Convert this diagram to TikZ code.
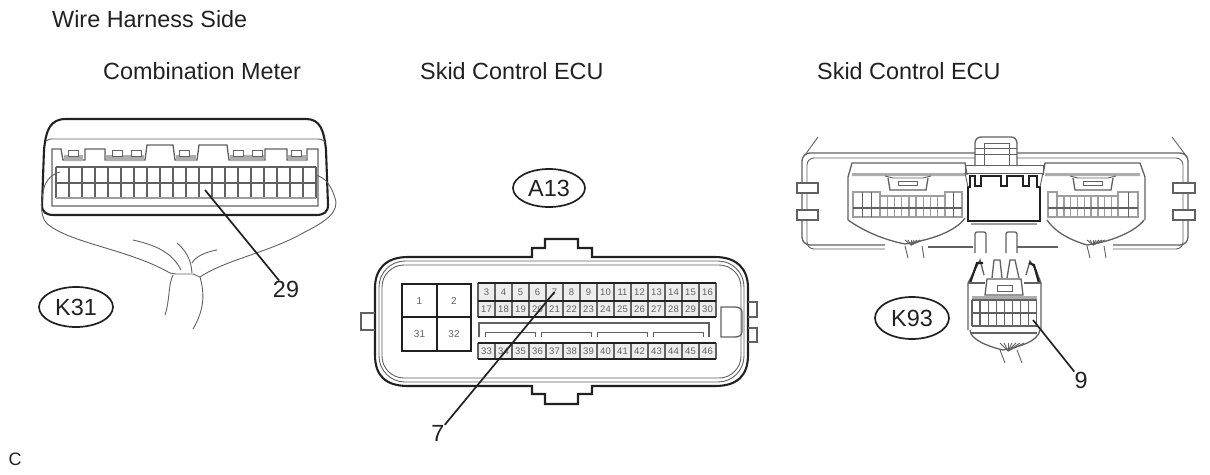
\documentclass[tikz,border=0pt]{standalone}
\usepackage{fontspec}
\setmainfont{Liberation Sans}
\usepackage{xcolor}
\usetikzlibrary{positioning, arrows.meta, shapes.geometric}

\definecolor{inkdark}{gray}{0.13}
\definecolor{inkmid}{gray}{0.38}
\definecolor{inklight}{gray}{0.62}
\definecolor{latchgrey}{gray}{0.68}

\tikzset{
    heavy/.style={draw=inkdark, line width=2.1pt},
    medium/.style={draw=inkmid, line width=1.3pt},
    thin line/.style={draw=inkmid, line width=0.9pt},
    soft/.style={draw=inklight, line width=1.8pt},
    wire/.style={draw=inkmid, line width=0.9pt},
    leader/.style={draw=inkdark, line width=1.7pt},
    title/.style={font=\fontsize{23.4}{26}\selectfont, text=inkdark, inner sep=0pt},
    label/.style={font=\fontsize{23.4}{26}\selectfont, text=inkdark, inner sep=0pt},
    tag/.style={ellipse, draw=inkdark, line width=1.7pt, font=\fontsize{23.4}{26}\selectfont, text=inkdark,
        minimum width=74pt, minimum height=40pt, inner sep=0pt},
    pinbig/.style={font=\fontsize{10}{12}\selectfont, text=inkmid, inner sep=0pt},
    pin/.style={font=\fontsize{9.5}{11}\selectfont, text=inkmid, inner sep=0pt},
}

\begin{document}
\begin{tikzpicture}[x=1pt, y=-1pt]
    \useasboundingbox (0,0) rectangle (1210,474);

    % texts
    \node[title, anchor=west] (side) at (52,19) {Wire Harness Side};
    \node[title, anchor=west] (meter) at (103,71) {Combination Meter};
    \node[title, anchor=west] (ecua) at (420,71) {Skid Control ECU};
    \node[title, anchor=west] (ecub) at (817,71) {Skid Control ECU};
    \node[font=\fontsize{18}{20}\selectfont, text=inkdark, inner sep=0pt] (corner) at (15,459) {C};

    \node[tag] (k31) at (76,307) {K31};
    \node[tag, minimum width=72pt, minimum height=38pt] (a13) at (549,188) {A13};
    \node[tag, minimum height=42pt] (k93) at (912,318) {K93};

    \node[label] (lab29) at (286,289) {29};
    \node[label] (lab7) at (438,433) {7};
    \node[label] (lab9) at (1081,380) {9};

    % combination meter
    \draw[heavy] (42,205) -- (44,150) .. controls (46,130) and (50,119) .. (66,119) -- (306,119)
        .. controls (320,119) and (324,130) .. (326,150) -- (328,205) .. controls (328,212) and (324,215) .. (316,215)
        -- (54,215) .. controls (46,215) and (42,212) .. (42,205) -- cycle;
    \draw[thin line] (46,141) .. controls (48,139) and (50,139) .. (54,139) -- (316,139) .. controls (320,139) and (322,139) .. (325,142);
    \draw[medium] (52,206) -- (52,149) -- (61,149) -- (63,160) -- (85,160) -- (85,149) -- (105,149) -- (105,160)
        -- (145,160) -- (147,145) -- (173,145) -- (175,160) -- (197,160) -- (199,145) -- (227,145) -- (229,160)
        -- (265,160) -- (265,149) -- (287,149) -- (287,160) -- (307,160) -- (307,149) -- (318,149) -- (318,206) -- cycle;
    \fill[latchgrey] (64,155) rectangle (83,161) (106,155) rectangle (144,161)
        (176,155) rectangle (196,161) (230,155) rectangle (264,161) (288,155) rectangle (306,161);
    \foreach \sx in {68,112,131,179,233,252,291}
        \draw[thin line, fill=white] (\sx,150) rectangle ++(10,6);
    \foreach \sx in {0,...,20}
        \draw[medium] (56+13*\sx,167) -- (56+13*\sx,198);
    \draw[medium] (56,167) -- (316,167);
    \draw[medium] (56,183) -- (316,183);
    \draw[soft] (56,198) -- (316,198);

    % wires of the meter
    \draw[wire] (60,172) .. controls (52,174) and (46,180) .. (44,188) .. controls (40,205) and (40,220) .. (50,226)
        .. controls (75,244) and (130,250) .. (170,273) -- (176,274) -- (193,274) -- (200,277)
        .. controls (225,260) and (270,252) .. (303,233) .. controls (325,222) and (340,212) .. (335,198)
        .. controls (331,185) and (325,177) .. (315,175);
    \draw[wire] (173,275) .. controls (168,285) and (170,300) .. (165,315);
    \draw[wire] (200,277) .. controls (205,295) and (204,310) .. (193,329);
    \draw[wire] (133,240) .. controls (155,245) and (172,252) .. (181,270);
    \draw[wire] (177,243) .. controls (185,250) and (191,258) .. (192,273);
    \draw[wire] (217,250) .. controls (205,252) and (195,257) .. (192,263);

    % centre connector
    \draw[heavy] (545,239) -- (578,239) -- (578,248) -- (592,248) -- (592,257) -- (715,257)
        .. controls (738,257) and (748,270) .. (748,288) -- (748,355) .. controls (748,375) and (738,386) .. (715,386)
        -- (592,386) -- (592,394) -- (578,394) -- (578,404) -- (545,404) -- (545,394) -- (532,394) -- (532,386)
        -- (408,386) .. controls (385,386) and (375,375) .. (375,355) -- (375,288) .. controls (375,270) and (385,257) .. (408,257)
        -- (532,257) -- (532,248) -- (545,248) -- cycle;
    \draw[thin line, rounded corners=26pt] (379,261) rectangle (744,382);
    \draw[thin line, rounded corners=22pt] (382,265) rectangle (741,378);
    \draw[medium] (375,313) -- (361,313) -- (361,330) -- (375,330);
    \draw[medium] (748,302) -- (757,302) -- (757,317) -- (748,317);
    \draw[medium] (748,328) -- (757,328) -- (757,342) -- (748,342);
    \draw[medium] (742,312) .. controls (742,309) and (739,307) .. (735,307) -- (721,307) -- (721,337) -- (735,337)
        .. controls (739,337) and (742,335) .. (742,332) -- cycle;

    \draw[heavy] (402,284) rectangle (471,351);
    \draw[heavy] (437,284) -- (437,351);
    \draw[heavy] (402,317) -- (471,317);
    \node[pinbig] (pin1) at (419.5,301) {1};
    \node[pinbig] (pin2) at (454,301) {2};
    \node[pinbig] (pin31) at (419.5,334) {31};
    \node[pinbig] (pin32) at (454,334) {32};

    \fill[black!7] (478,283) rectangle (716,317) (478,343) rectangle (716,359);
    \foreach \n [count=\c from 0] in {3,...,16}
        \node[pin] (pin\n) at (486.5+17*\c,292) {\n};
    \foreach \n [count=\c from 0] in {17,...,30}
        \node[pin] (pin\n) at (486.5+17*\c,309.5) {\n};
    \foreach \n [count=\c from 0] in {33,...,46}
        \node[pin] (pin\n) at (486.5+17*\c,351) {\n};
    \foreach \c in {0,...,14} {
        \draw[medium, line width=1.6pt] (478+17*\c,283) -- (478+17*\c,317);
        \draw[medium, line width=1.6pt] (478+17*\c,343) -- (478+17*\c,359);
    }
    \foreach \yy in {283,301,317,343,359}
        \draw[heavy, line width=1.9pt] (478,\yy) -- (716,\yy);
    \draw[medium] (479,337) -- (479,323) -- (709,323) -- (709,337);
    \foreach \sx in {485,541,597,653}
        \draw[thin line] (\sx,337) -- (\sx,332) -- (\sx+50,332) -- (\sx+50,337);

    % right hand ECU
    \draw[medium, rounded corners=8pt] (885,245) -- (802,245) -- (802,153) -- (1188,153) -- (1188,245) -- (1113,245);
    \draw[thin line, rounded corners=7pt] (885,249) -- (807,249) -- (807,158) -- (1183,158) -- (1183,249) -- (1113,249);
    \draw[medium] (928,247) -- (973,247);
    \draw[medium] (1017,247) -- (1058,247);
    \draw[thin line] (818,137) -- (805,155);
    \draw[thin line] (1172,137) -- (1187,157);
    \foreach \yy in {183,210} {
        \draw[medium, fill=white] (797,\yy) rectangle (818,\yy+10);
        \draw[medium, fill=white] (1173,\yy) rectangle (1195,\yy+10);
    }
    \draw[medium, fill=white, rounded corners=6pt] (975,166) -- (975,137) -- (1017,137) -- (1017,166);
    \draw[thin line] (984,166) -- (984,143) -- (1009,143) -- (1009,166);
    \draw[thin line] (975,148) -- (1017,148);
    \draw[thin line] (975,154) -- (1017,154);
    \foreach \sx in {975,1006}
        \draw[medium, rounded corners=2pt] (\sx,253) -- (\sx,232) -- (\sx+11,232) -- (\sx+11,253);

    % left and right plug of the ECU
    \draw[medium] (848,220) -- (848,177) -- (852,163) -- (965,163) -- (967,175);
    \draw[medium] (1043,175) -- (1045,163) -- (1140,163) -- (1145,177) -- (1145,220);
    \fill[latchgrey] (852,173) rectangle (965,176) (1045,173) rectangle (1140,176);
    \draw[medium] (848,220) .. controls (865,232) and (885,240) .. (905,244) .. controls (930,240) and (955,232) .. (965,218);
    \draw[medium] (1047,220) .. controls (1055,232) and (1070,240) .. (1087,245) .. controls (1110,242) and (1135,232) .. (1144,220);
    \foreach \sx in {888,1073} {
        \draw[medium] (\sx,178) -- (\sx+2,190) -- (\sx+38,190) -- (\sx+40,178);
        \draw[thin line] (\sx+10,181) rectangle ++(19,4);
        \draw[thin line] (\sx-3,176) -- (\sx+5,178) -- (\sx+35,178) -- (\sx+43,176);
    }
    \draw[soft, line width=1.4pt] (853,192) rectangle (880,217);
    \draw[soft, line width=1.4pt] (880,196) rectangle (945,217);
    \draw[soft, line width=1.4pt] (945,192) rectangle (962,217);
    \draw[soft, line width=1.4pt] (1048,192) rectangle (1057,217);
    \draw[soft, line width=1.4pt] (1057,196) rectangle (1118,217);
    \draw[soft, line width=1.4pt] (1118,192) rectangle (1138,217);
    \foreach \sx in {862,871,953}
        \draw[thin line] (\sx,192) -- (\sx,217);
    \foreach \sx in {1,...,8} {
        \draw[soft, line width=1.4pt] (880+7.2*\sx,196) -- (880+7.2*\sx,217);
        \draw[soft, line width=1.4pt] (1057+6.8*\sx,196) -- (1057+6.8*\sx,217);
    }
    \foreach \sx in {1128}
        \draw[thin line] (\sx,192) -- (\sx,217);
    \draw[medium] (853,208) -- (962,208);
    \draw[medium] (1048,208) -- (1138,208);
    \foreach \tx in {905,1087} {
        \draw[wire] (\tx,246) -- (\tx+3,258);
        \draw[wire] (\tx+17,246) -- (\tx+19,258);
        \foreach \da in {-6,-3,0,3,6,9,12}
            \draw[thin line] (\tx+6,245) -- (\tx+6+\da,240);
    }

    % middle plug of the ECU
    \draw[thin line] (965,173) -- (965,165) -- (1043,165) -- (1043,173);
    \draw[thin line] (965,173) -- (1043,173);
    \draw[heavy, fill=white] (970,187) -- (970,176) -- (975,176) -- (975,186) -- (981,186) -- (981,176)
        -- (1001,176) -- (1001,186) -- (1007,186) -- (1007,176) -- (1023,176) -- (1023,186) -- (1029,186) -- (1029,176)
        -- (1037,176) -- (1037,187) -- (1040,187) -- (1040,221) -- (968,221) -- (968,187) -- cycle;
    \draw[soft] (971,224) -- (1037,224);
    \draw[thin line] (965,173) -- (968,187);
    \draw[thin line] (1043,173) -- (1040,187);

    % plug K93
    \draw[medium] (968,330) -- (968,283) -- (975,270) -- (980,260) -- (984,275);
    \draw[medium] (1041,330) -- (1041,283) -- (1036,270) -- (1030,261) -- (1026,275);
    \draw[heavy] (970,283) -- (977,263) -- (983,263);
    \draw[heavy] (1039,283) -- (1034,265) -- (1029,263);
    \draw[medium] (992,278) -- (994,260) -- (1000,260) -- (1002,278);
    \draw[medium] (1007,278) -- (1010,260) -- (1015,260) -- (1019,278);
    \draw[medium] (968,283) -- (985,283);
    \draw[medium] (1024,283) -- (1041,283);
    \draw[medium] (985,295) -- (987,279) -- (1021,279) -- (1023,295) -- cycle;
    \draw[thin line] (997,285) rectangle (1012,291);
    \fill[latchgrey] (972,296) rectangle (1037,299);
    \foreach \sx in {0,...,8}
        \draw[medium] (972+8.1*\sx,300) -- (972+8.1*\sx,326);
    \foreach \yy in {300,313,326}
        \draw[medium] (972,\yy) -- (1037,\yy);
    \draw[medium, line width=2.4pt] (971,333) -- (1037,333);
    \draw[medium] (970,330) .. controls (970,340) and (990,347) .. (1003,350) .. controls (1018,347) and (1038,342) .. (1040,330);
    \draw[wire] (1000,350) -- (1005,363);
    \draw[wire] (1017,350) -- (1022,363);
    \foreach \da in {-8,-4,0,4,8,12,16}
        \draw[thin line] (1008,351) -- (1008+\da,343);

    % leaders
    \coordinate (p29) at (205,190);
    \coordinate (p9) at (1033,320);
    \draw[leader] (p29) -- (lab29);
    \draw[leader] (pin7.center) -- (lab7);
    \draw[leader] (p9) -- (lab9);
\end{tikzpicture}
\end{document}
